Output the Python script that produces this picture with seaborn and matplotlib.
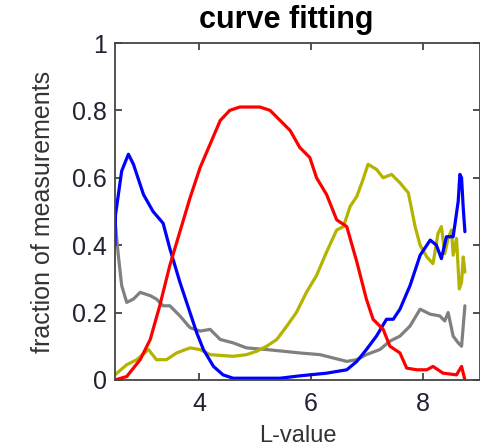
import matplotlib
matplotlib.use("Agg")
import matplotlib.pyplot as plt
import seaborn as sns
import pandas as pd
from matplotlib.ticker import FuncFormatter

# ---- data ----
red_x = [2.50, 2.71, 2.95, 3.13, 3.30, 3.48, 3.66, 3.84, 4.02, 4.20, 4.38, 4.55, 4.73, 5.09,
         5.27, 5.45, 5.63, 5.80, 5.98, 6.10, 6.28, 6.46, 6.64, 6.82, 6.99, 7.11, 7.29, 7.41,
         7.59, 7.71, 7.89, 8.07, 8.18, 8.36, 8.60, 8.69, 8.75]
red_y = [0.00, 0.01, 0.06, 0.12, 0.22, 0.34, 0.44, 0.54, 0.63, 0.70, 0.77, 0.80, 0.81, 0.81,
         0.80, 0.77, 0.74, 0.69, 0.66, 0.60, 0.55, 0.475, 0.455, 0.35, 0.24, 0.18, 0.15, 0.10,
         0.08, 0.035, 0.03, 0.03, 0.04, 0.02, 0.015, 0.04, 0.00]

blue_x = [2.50, 2.51, 2.62, 2.74, 2.83, 3.01, 3.18, 3.36, 3.48, 3.66, 3.84, 3.96, 4.08, 4.26,
          4.43, 4.61, 5.45, 5.80, 6.28, 6.64, 6.82, 6.99, 7.17, 7.35, 7.47, 7.59, 7.77, 7.95,
          8.13, 8.24, 8.33, 8.42, 8.54, 8.63, 8.66, 8.69, 8.72, 8.75]
blue_y = [0.40, 0.49, 0.62, 0.67, 0.64, 0.55, 0.50, 0.465, 0.39, 0.29, 0.20, 0.14, 0.09, 0.04,
          0.015, 0.005, 0.005, 0.012, 0.02, 0.03, 0.055, 0.09, 0.13, 0.18, 0.18, 0.21, 0.28, 0.37,
          0.415, 0.40, 0.36, 0.425, 0.425, 0.53, 0.61, 0.60, 0.51, 0.44]

olive_x = [2.50, 2.71, 2.89, 3.10, 3.24, 3.42, 3.60, 3.84, 4.02, 4.20, 4.61, 4.85, 5.03, 5.21,
           5.39, 5.57, 5.74, 5.92, 6.10, 6.28, 6.46, 6.58, 6.70, 6.82, 6.93, 7.02, 7.17, 7.29,
           7.44, 7.59, 7.74, 7.86, 7.95, 8.07, 8.18, 8.27, 8.33, 8.39, 8.45, 8.51, 8.54, 8.60,
           8.65, 8.69, 8.72, 8.75]
olive_y = [0.015, 0.045, 0.06, 0.09, 0.06, 0.06, 0.08, 0.095, 0.09, 0.075, 0.07, 0.075, 0.085,
           0.10, 0.12, 0.16, 0.20, 0.26, 0.31, 0.38, 0.445, 0.455, 0.515, 0.545, 0.595, 0.64,
           0.625, 0.60, 0.61, 0.585, 0.555, 0.455, 0.40, 0.365, 0.345, 0.435, 0.455, 0.375, 0.42,
           0.445, 0.37, 0.42, 0.27, 0.29, 0.365, 0.32]

gray_x = [2.50, 2.56, 2.62, 2.71, 2.83, 2.95, 3.13, 3.24, 3.36, 3.48, 3.66, 3.84, 4.02, 4.20,
          4.38, 4.61, 4.85, 5.21, 5.51, 5.80, 6.16, 6.40, 6.64, 6.82, 6.99, 7.23, 7.41, 7.59,
          7.77, 7.95, 8.13, 8.30, 8.39, 8.45, 8.54, 8.63, 8.69, 8.72, 8.75]
gray_y = [0.475, 0.37, 0.28, 0.23, 0.24, 0.26, 0.25, 0.24, 0.22, 0.22, 0.19, 0.155, 0.145, 0.15,
          0.12, 0.11, 0.095, 0.09, 0.085, 0.08, 0.075, 0.065, 0.055, 0.06, 0.075, 0.09, 0.115,
          0.13, 0.16, 0.21, 0.195, 0.19, 0.175, 0.20, 0.13, 0.11, 0.10, 0.16, 0.22]

x_ticks = [4, 6, 8]
y_ticks = [0, 0.2, 0.4, 0.6, 0.8, 1]
title = "curve fitting"
x_label = "L-value"
y_label = "fraction of measurements"

sns.set_style("ticks")
plt.rcParams['font.family'] = ['Liberation Sans', 'DejaVu Sans']

fig = plt.figure(figsize=(4.81, 4.48), dpi=100)
ax = fig.add_axes([0.239, 0.152, 0.759, 0.752])

series = [(gray_x, gray_y, "#808080"),
          (olive_x, olive_y, "#b3b300"),
          (blue_x, blue_y, "#0000ff"),
          (red_x, red_y, "#ff0000")]
for xs, ys, col in series:
    df = pd.DataFrame({"x": xs, "y": ys})
    sns.lineplot(data=df, x="x", y="y", ax=ax, color=col, linewidth=2.3,
                 sort=False, estimator=None)

ax.set_xlim(2.5, 9.02)
ax.set_ylim(0, 1)
ax.set_xticks(x_ticks)
ax.set_yticks(y_ticks)
ax.yaxis.set_major_formatter(FuncFormatter(lambda v, p: f"{v:g}"))
ax.tick_params(direction="in", length=5, width=1.2, colors="#333333",
               labelcolor="#222233", labelsize=18, top=True, right=True)
ax.tick_params(axis="x", pad=9)
ax.tick_params(axis="y", pad=6)
for s in ax.spines.values():
    s.set_visible(True)
    s.set_color("#444444")
    s.set_linewidth(1.3)

ax.set_xlabel(x_label, fontsize=17, color="#333333", labelpad=6)
ax.set_ylabel(y_label, fontsize=18, color="#333333", labelpad=12)
ax.text(0.47, 1.025, title, transform=ax.transAxes, ha="center", va="bottom",
        fontsize=22, fontweight="bold", color="black")

fig.savefig("out.png", dpi=100)
